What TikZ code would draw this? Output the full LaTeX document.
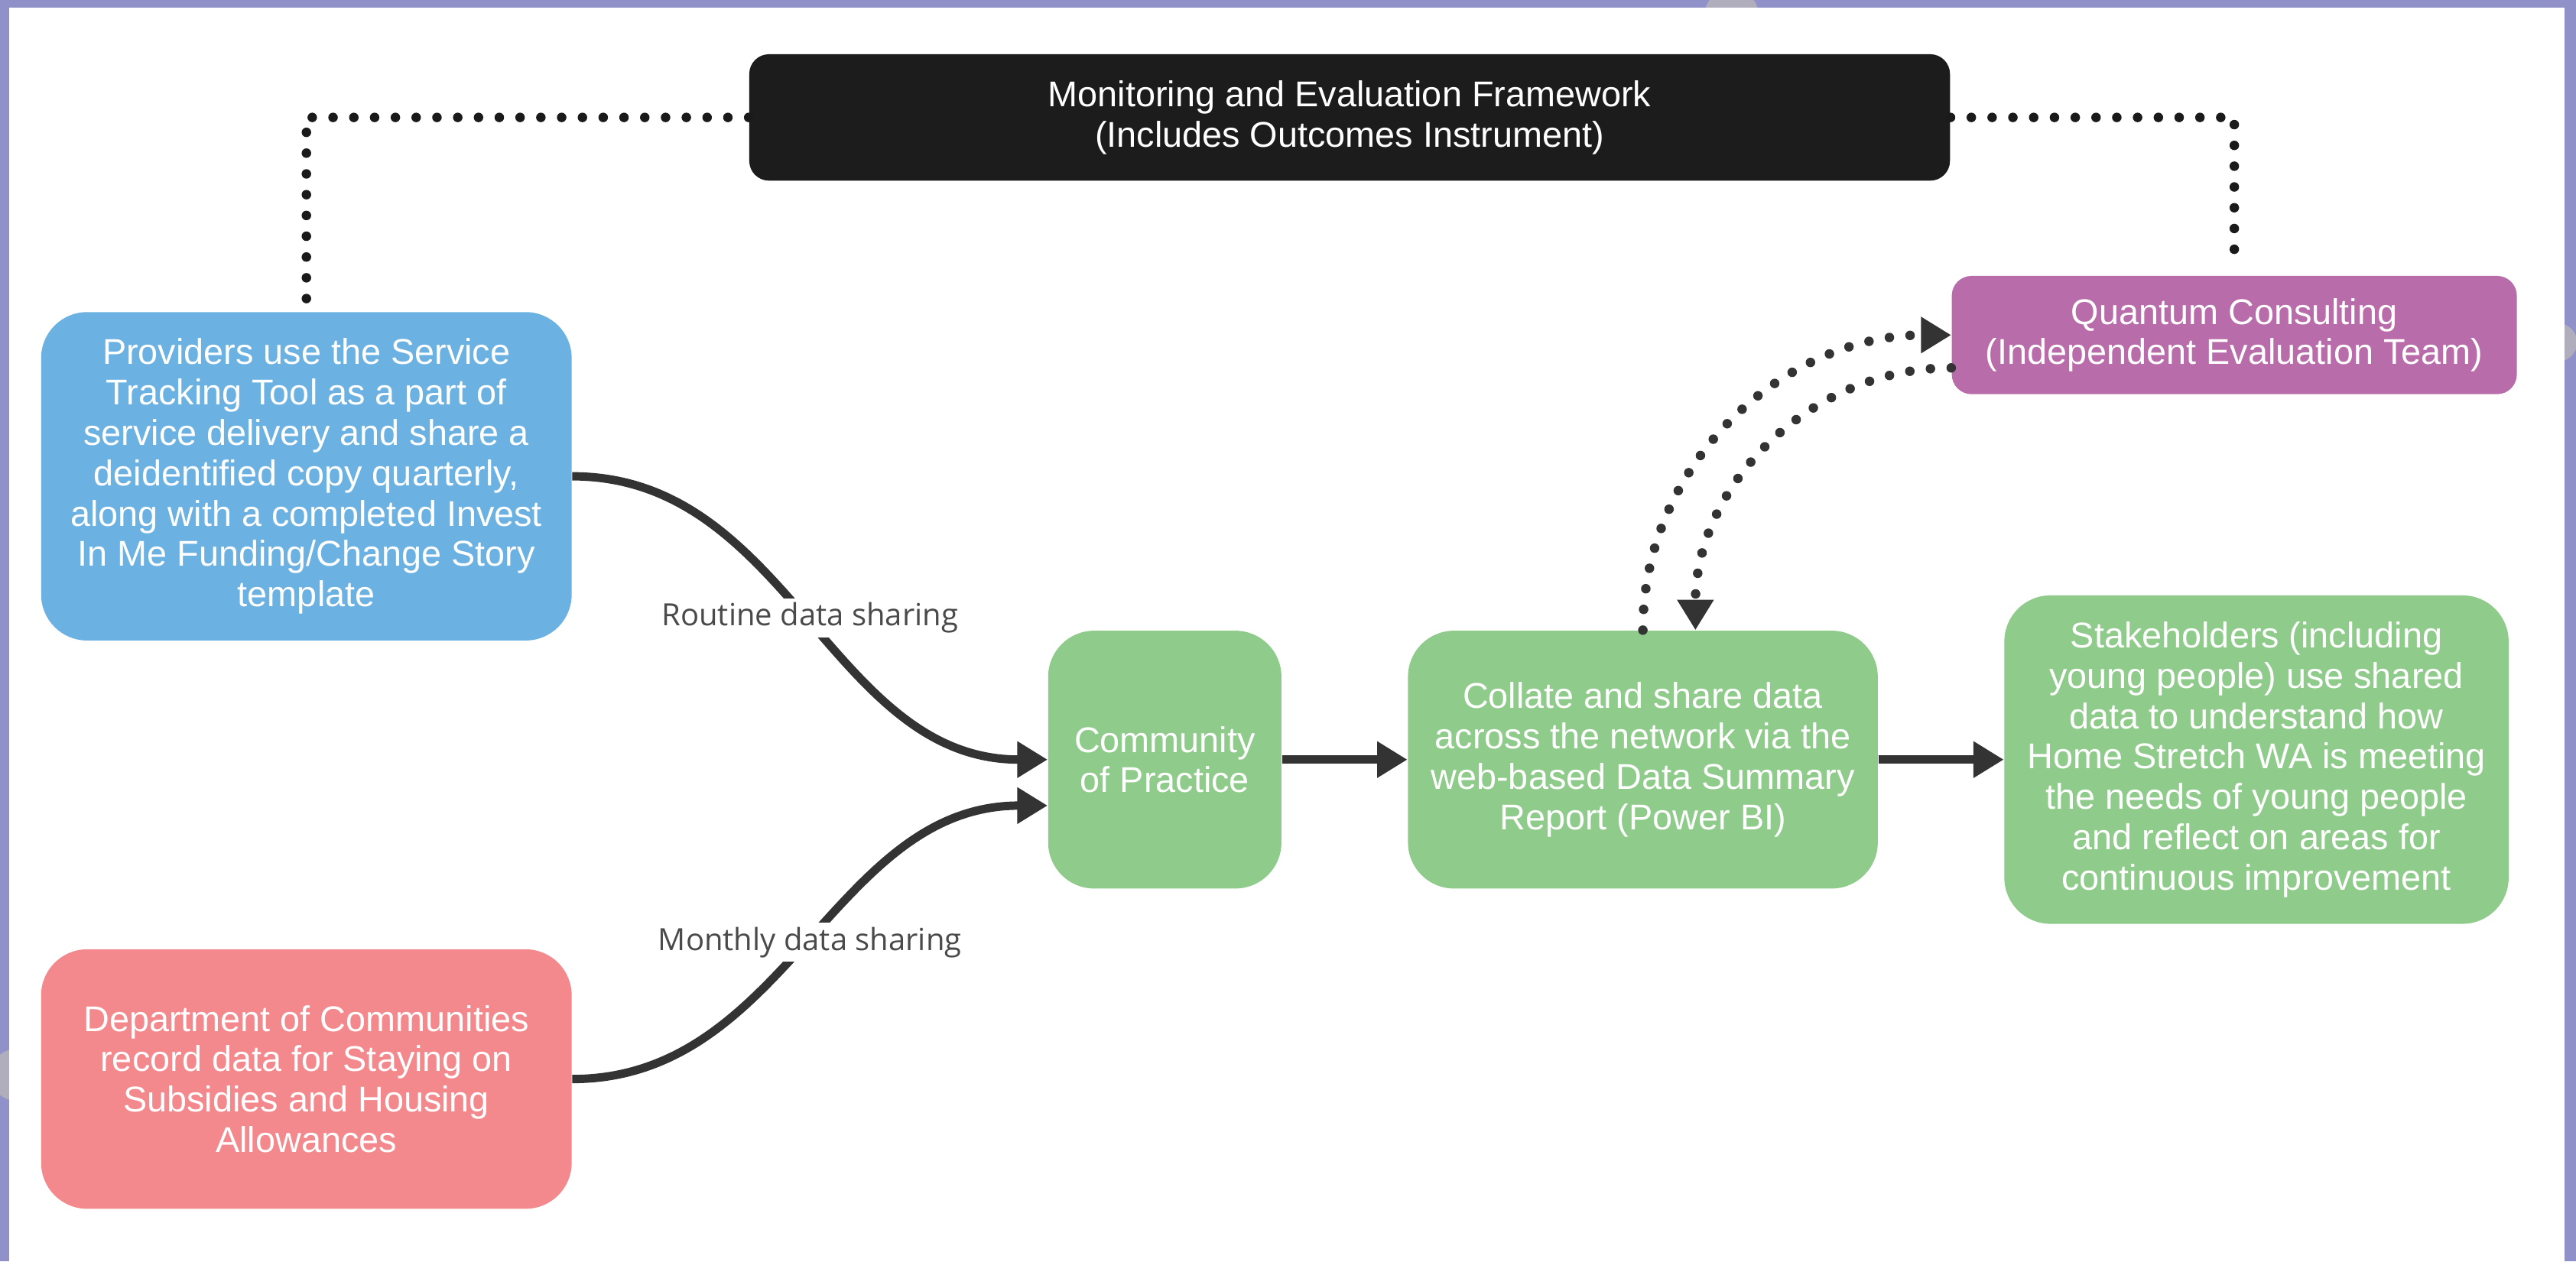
\documentclass[tikz,border=0pt]{standalone}
\usepackage{fontspec}
\setmainfont{Liberation Sans}
\newfontfamily\labelfont{Open Sans}
\usetikzlibrary{arrows.meta}

\definecolor{framepurple}{HTML}{9191C9}
\definecolor{handlegray}{HTML}{B0AEBC}
\definecolor{provblue}{HTML}{6BB1E1}
\definecolor{deptred}{HTML}{F3898D}
\definecolor{stepgreen}{HTML}{8FCB8A}
\definecolor{evalpurple}{HTML}{B96CAA}
\definecolor{nearblack}{HTML}{1C1C1C}
\definecolor{arrowgray}{HTML}{333333}
\definecolor{dotgray}{HTML}{1A1A1A}
\definecolor{labelgray}{HTML}{4A4A4A}

\begin{document}
\begin{tikzpicture}
  [x=0.02cm, y=-0.02cm,
   box/.style={rounded corners=0.56cm, text=white, align=center, inner sep=0pt,
               font=\fontsize{12.4}{14}\selectfont},
   tip/.style={-{Triangle[length=10.5pt,width=12pt]}},
   flow/.style={draw=arrowgray, line width=2.9pt, tip},
   link/.style={draw=dotgray, line width=3.3pt, line cap=round, dash pattern=on 0pt off 7.2pt},
   lbl/.style={fill=white, text=labelgray, inner sep=1.5pt,
               font=\labelfont\fontsize{10.6}{12}\selectfont}]
  \useasboundingbox (0,0) rectangle (1568,768);
  \fill[framepurple] (0,0) rectangle (1568,768);
  \fill[handlegray] (1054,9.7) circle[radius=16.6];
  \fill[handlegray] (9.8,654.4) circle[radius=15.7];
  \fill[handlegray] (1557,208.5) circle[radius=11.6];
  \fill[white] (5.4,4.65) rectangle (1561,769);

  \node[box, fill=nearblack, rounded corners=0.24cm, minimum width=14.62cm, minimum height=1.54cm]
    (mef) at (821.5,71.5) {Monitoring and Evaluation Framework\\(Includes Outcomes Instrument)};
  \node[box, fill=provblue, minimum width=6.46cm, minimum height=4cm] (prov) at (186.5,290)
    {Providers use the Service\\Tracking Tool as a part of\\service delivery and share a\\
     deidentified copy quarterly,\\along with a completed Invest\\In Me Funding/Change Story\\template};
  \node[box, fill=deptred, minimum width=6.46cm, minimum height=3.16cm] (dept) at (186.5,657)
    {Department of Communities\\record data for Staying on\\Subsidies and Housing\\Allowances};
  \node[box, fill=stepgreen, minimum width=2.84cm, minimum height=3.14cm] (cop) at (709,462.5)
    {Community\\of Practice};
  \node[box, fill=stepgreen, minimum width=5.72cm, minimum height=3.14cm] (collate) at (1000,462.5)
    {Collate and share data\\across the network via the\\web-based Data Summary\\Report (Power BI)};
  \node[box, fill=stepgreen, minimum width=6.14cm, minimum height=4cm] (stake) at (1373.5,462.5)
    {Stakeholders (including\\young people) use shared\\data to understand how\\Home Stretch WA is meeting\\
     the needs of young people\\and reflect on areas for\\continuous improvement};
  \node[box, fill=evalpurple, rounded corners=0.24cm, minimum width=6.88cm, minimum height=1.44cm]
    (quantum) at (1360,204) {Quantum Consulting\\(Independent Evaluation Team)};

  \draw[link] (mef.west) -| (prov.north);
  \draw[link] (mef.east) -| ([yshift=0.26cm]quantum.north);
  \draw[link, draw=arrowgray, tip] (collate.north) to[out=90,in=180] (quantum.west);
  \draw[link, draw=arrowgray, tip]
    ([yshift=-0.4cm]quantum.west) to[out=180,in=90] ([xshift=0.64cm]collate.north);

  \draw[flow] (prov.east) to[out=0,in=180] node[lbl] {Routine data sharing} (cop.west);
  \draw[flow] (dept.east) to[out=0,in=180] node[lbl] {Monthly data sharing} ([yshift=-0.56cm]cop.west);
  \draw[flow] (cop) -- (collate);
  \draw[flow] (collate) -- (stake);
\end{tikzpicture}
\end{document}
